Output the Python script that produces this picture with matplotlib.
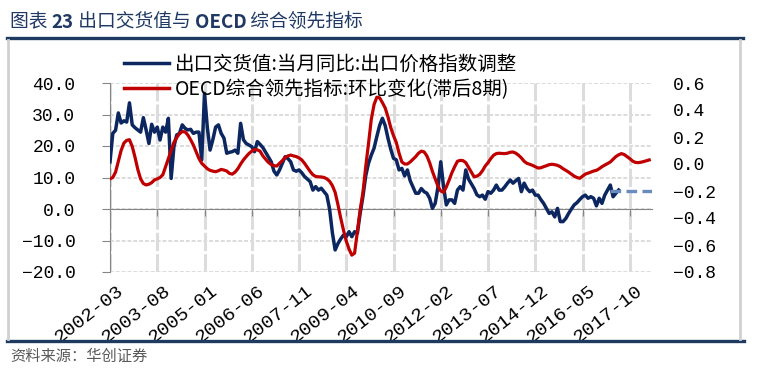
import numpy as np
import pandas as pd
import matplotlib
matplotlib.use("Agg")
import matplotlib.pyplot as plt
import matplotlib.transforms as mtransforms
from matplotlib.lines import Line2D
from matplotlib.ticker import FuncFormatter

plt.rcParams['font.family'] = ['Noto Sans CJK SC', 'DejaVu Sans']

# 出口交货值:当月同比:出口价格指数调整 (%), 月度, 从 2002-03 开始
start = "2002-03"
end = "2018-06"
export_yoy = [
    15.0, 24.0, 25.0, 30.5, 27.3, 28.0, 27.6, 33.7, 26.7, 25.8,
    25.1, 24.4, 29.0, 25.1, 20.8, 26.9, 24.4, 26.0, 21.9, 26.0,
    24.4, 28.8, 9.7, 19.8, 23.5, 24.0, 26.7, 25.6, 25.1, 25.3,
    24.0, 24.4, 24.4, 15.6, 36.7, 26.0, 18.7, 22.0, 26.0, 26.7,
    24.0, 22.5, 17.7, 18.0, 18.2, 18.7, 17.7, 27.2, 22.0, 20.8,
    20.3, 19.8, 18.2, 21.4, 20.5, 19.5, 18.0, 16.5, 15.0, 12.0,
    10.8, 12.4, 14.5, 16.6, 16.0, 15.0, 12.4, 12.0, 12.4, 11.5,
    10.3, 9.5, 8.7, 6.0, 7.1, 6.0, 6.6, 5.5, 4.4, 0.0,
    -7.5, -13.0, -11.0, -9.5, -8.3, -8.8, -7.2, -8.8, -7.2, -7.7,
    -1.4, 4.0, 10.5, 14.5, 17.1, 19.3, 23.0, 26.5, 28.8, 26.5,
    22.5, 19.0, 16.1, 15.6, 12.4, 12.9, 10.5, 12.4, 9.0, 7.0,
    5.0, 5.0, 6.5, 5.5, 5.0, 3.4, 0.2, 1.8, 7.0, 15.0,
    7.1, 1.3, 2.9, 2.9, 1.8, 6.0, 7.1, 6.0, 12.4, 9.5,
    8.0, 6.5, 4.5, 3.9, 4.4, 3.1, 5.5, 5.0, 6.0, 7.6,
    6.0, 6.0, 7.0, 8.2, 9.2, 8.2, 9.0, 9.7, 5.5, 8.2,
    6.5, 5.5, 6.0, 4.4, 4.4, 3.0, 1.8, 0.2, -1.4, -0.9,
    -2.5, 0.2, -4.0, -4.0, -3.0, -1.4, 0.0, 1.3, 2.0, 3.0,
    3.9, 4.4, 3.4, 3.9, 3.4, 1.0, 3.4, 1.8, 4.4, 6.0,
    7.6, 3.9, 5.0, 6.0,
]

# OECD综合领先指标:环比变化(滞后8期), 右轴
oecd_chg = [
    -0.11, -0.10, -0.06, 0.02, 0.10, 0.155, 0.175, 0.18, 0.13, 0.05,
    -0.04, -0.11, -0.145, -0.155, -0.15, -0.138, -0.118, -0.11, -0.10, -0.08,
    -0.02, 0.04, 0.10, 0.16, 0.195, 0.225, 0.24, 0.238, 0.215, 0.18,
    0.14, 0.09, 0.04, 0.005, -0.015, -0.035, -0.047, -0.053, -0.057, -0.05,
    -0.04, -0.045, -0.052, -0.07, -0.075, -0.06, -0.035, 0.0, 0.03, 0.055,
    0.078, 0.095, 0.108, 0.105, 0.095, 0.06, 0.035, 0.012, -0.004, -0.012,
    -0.015, 0.005, 0.025, 0.048, 0.06, 0.066, 0.06, 0.055, 0.045, 0.03,
    0.005, -0.025, -0.055, -0.08, -0.092, -0.095, -0.096, -0.1, -0.11, -0.128,
    -0.16, -0.21, -0.3, -0.4, -0.49, -0.57, -0.63, -0.675, -0.66, -0.5,
    -0.34, -0.21, -0.02, 0.15, 0.33, 0.44, 0.495, 0.49, 0.455, 0.415,
    0.35, 0.27, 0.21, 0.16, 0.08, 0.015, 0.0, 0.0, 0.015, 0.035,
    0.055, 0.08, 0.095, 0.09, 0.06, 0.01, -0.055, -0.11, -0.165, -0.2,
    -0.21, -0.17, -0.12, -0.065, -0.02, 0.02, 0.027, 0.025, 0.01, -0.025,
    -0.06, -0.095, -0.09, -0.077, -0.05, -0.015, 0.01, 0.04, 0.065, 0.077,
    0.08, 0.078, 0.077, 0.08, 0.087, 0.089, 0.08, 0.065, 0.045, 0.02,
    0.005, -0.002, -0.01, -0.02, -0.03, -0.028, -0.02, -0.013, -0.005, -0.002,
    -0.005, -0.01, -0.02, -0.035, -0.047, -0.06, -0.075, -0.09, -0.1, -0.106,
    -0.09, -0.075, -0.068, -0.06, -0.052, -0.047, -0.035, -0.02, -0.008, 0.003,
    0.015, 0.035, 0.055, 0.068, 0.077, 0.07, 0.055, 0.04, 0.022, 0.012,
    0.01, 0.013, 0.018, 0.024, 0.03,
]

# 虚线参考水平
guide_start = "2017-03"
guide_end = "2018-06"
guide_level = 5.7

left_ticks = [-20, -10, 0, 10, 20, 30, 40]
right_ticks = [-0.8, -0.6, -0.4, -0.2, 0.0, 0.2, 0.4, 0.6]
tick_step = 17

label_export = "出口交货值:当月同比:出口价格指数调整"
label_oecd = "OECD综合领先指标:环比变化(滞后8期)"
source = "资料来源：华创证券"

navy = "#0C2660"
red = "#C00000"
grid_c = "#DCDCDC"
axis_c = "#868686"
title_c = "#1F3864"
num_font = ['Liberation Mono', 'DejaVu Sans Mono']

months = pd.period_range(start, end, freq="M")
x_export = np.arange(len(export_yoy))
x_oecd = np.arange(len(oecd_chg))
g0 = months.get_loc(pd.Period(guide_start, freq="M"))
g1 = months.get_loc(pd.Period(guide_end, freq="M"))

fig = plt.figure(figsize=(7.64, 3.75), dpi=100)
ax = fig.add_axes([110 / 764, 1 - 272 / 375, 542 / 764, 189 / 375])
ax2 = ax.twinx()

# 先设定刻度参数, 再设标签, 否则旋转会被重置
ax.tick_params(axis="x", length=5, color=axis_c, pad=48, labelrotation=38)
ax.tick_params(axis="y", length=6, color=axis_c, pad=19)
ax2.tick_params(axis="y", length=0, pad=15)

ax.plot(x_export, export_yoy, color=navy, lw=2.5, solid_joinstyle="round", zorder=3)
ax.plot([g0, g1], [guide_level, guide_level], color="#6A8BBE", lw=2.4,
        dashes=(3.2, 1.6), zorder=3)
ax2.plot(x_oecd, oecd_chg, color=red, lw=2.3)

ax.set_xlim(0, len(months) - 1)
ax.set_ylim(-20, 40)
ax2.set_ylim(-0.8, 0.6)

tick_pos = np.arange(0, len(months), tick_step)
ax.set_xticks(tick_pos)
ax.set_xticklabels([months[i].strftime("%Y-%m") for i in tick_pos])

fmt = FuncFormatter(lambda v, p: ("%.1f" % v).replace("-", "\u2212"))
ax.set_yticks(left_ticks)
ax.yaxis.set_major_formatter(fmt)
ax2.set_yticks(right_ticks)
ax2.yaxis.set_major_formatter(fmt)

ax.spines["bottom"].set_position(("data", 0))
for s in ["top", "right"]:
    ax.spines[s].set_visible(False)
for s in ax2.spines.values():
    s.set_visible(False)
ax.spines["bottom"].set_color(axis_c)
ax.spines["left"].set_color(axis_c)

for xv in tick_pos:
    ax.axvline(xv, color=grid_c, lw=2.2, ls=(0, (6, 1)), zorder=0.5)
for yv in left_ticks:
    ax.axhline(yv, color=grid_c, lw=1.4, ls=(0, (2, 1)), zorder=0.5)

handles = [Line2D([], [], color=navy, lw=2.5), Line2D([], [], color=red, lw=2.5)]
fig.legend(handles, [label_export, label_oecd], loc="upper left",
           bbox_to_anchor=(124 / 764, 1 - 54 / 375), frameon=False,
           fontsize=14, handlelength=2.3, handletextpad=0.3,
           labelspacing=0.22, borderpad=0, borderaxespad=0)

# 标题
t1 = fig.text(10 / 764, 1 - 22 / 375, "图表 ", fontsize=13.5, color=title_c, va="center")
prev = t1
for txt, wt in [("23", "bold"), (" 出口交货值与 ", "normal"), ("OECD", "bold"),
                (" 综合领先指标", "normal")]:
    prev = fig.add_artist(plt.Annotation(txt, xy=(1, 0.5), xycoords=prev,
                                         va="center", ha="left", fontsize=13.5,
                                         color=title_c, weight=wt))

fig.add_artist(Line2D([7 / 764, 743 / 764], [1 - 38 / 375] * 2, color="#1F3A60", lw=2.4))
fig.add_artist(Line2D([7 / 764, 744 / 764], [1 - 341 / 375] * 2, color="#1F3A60", lw=2.4))
fig.add_artist(Line2D([8 / 764] * 2, [1 - 40 / 375, 1 - 339 / 375], color="#D0D0D0", lw=2))
fig.add_artist(Line2D([740 / 764] * 2, [1 - 40 / 375, 1 - 339 / 375], color="#D0D0D0", lw=2))

fig.text(10 / 764, 1 - 356 / 375, source, fontsize=11, color="#595959", va="center")

# 刻度标签字体与位置, 放在最后以免被重置
offset = mtransforms.ScaledTranslation(6 / 100, 0, fig.dpi_scale_trans)
for lab in ax.get_xticklabels():
    lab.set_family(num_font)
    lab.set_fontsize(14)
    lab.set_ha("right")
    lab.set_rotation_mode("anchor")
    lab.set_transform(lab.get_transform() + offset)
for lab in ax.get_yticklabels() + ax2.get_yticklabels():
    lab.set_family(num_font)
    lab.set_fontsize(13)

fig.savefig("out.png", dpi=100)
